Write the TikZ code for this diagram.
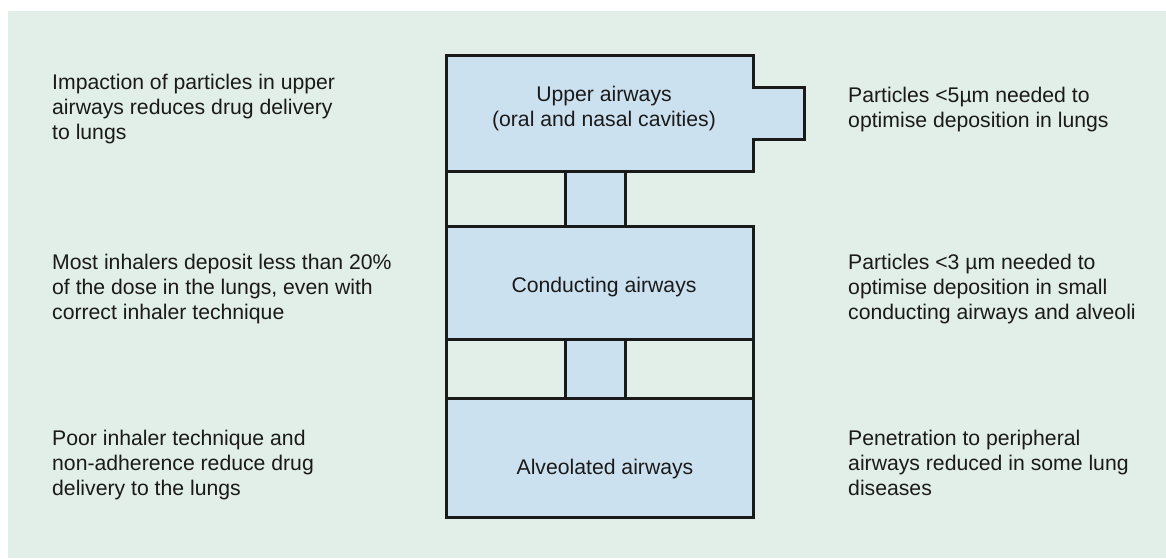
\documentclass[tikz,border=0pt]{standalone}
\usepackage{fontspec}
\setmainfont{Liberation Sans}
\definecolor{panelbg}{HTML}{E2EEE8}
\definecolor{airfill}{HTML}{CCE1F0}
\definecolor{wall}{HTML}{1A1A1A}
\tikzset{
  airway/.style={fill=airfill,draw=wall,line width=3pt,line join=miter},
  wallline/.style={draw=wall,line width=3pt},
  note/.style={anchor=base west,align=left,inner sep=0pt,text=wall,font=\fontsize{21.2}{25}\selectfont},
  zone/.style={anchor=base,align=center,inner sep=0pt,text=wall,font=\fontsize{21.2}{25}\selectfont}
}

\begin{document}
\begin{tikzpicture}[x=1pt,y=-1pt]
  \useasboundingbox (0,0) rectangle (1166,558);
  \fill[panelbg] (8,11) rectangle (1166,558);

  % tubes between the zones
  \fill[airfill] (565,171) rectangle (625,226);
  \fill[airfill] (565,339) rectangle (625,398);
  \draw[wallline] (565,171) -- (565,226) (625,171) -- (625,226);
  \draw[wallline] (565,339) -- (565,398) (625,339) -- (625,398);
  \draw[wallline] (446,171) -- (446,226);
  \draw[wallline] (446,339) -- (446,398) (753,339) -- (753,398);

  % the three zones
  \draw[airway] (446,55) -- (753,55) -- (753,87) -- (804,87) -- (804,139)
    -- (753,139) -- (753,171) -- (446,171) -- cycle;
  \draw[airway] (446,226) rectangle (753,339);
  \draw[airway] (446,398) rectangle (753,517);

  % base = baseline of the last line
  \node[zone] (upperLbl) at (604,126) {Upper airways\\(oral and nasal cavities)};
  \node[zone] (conductLbl) at (604,292) {Conducting airways};
  \node[zone] (alveolLbl) at (605,474) {Alveolated airways};

  % left notes
  \node[note] (impactNote) at (52,139) {Impaction of particles in upper\\airways reduces drug delivery\\to lungs};
  \node[note] (depositNote) at (52,319) {Most inhalers deposit less than 20\%\\of the dose in the lungs, even with\\correct inhaler technique};
  \node[note] (techniqueNote) at (52,495) {Poor inhaler technique and\\non-adherence reduce drug\\delivery to the lungs};

  % right notes
  \node[note] (fiveNote) at (848,127) {Particles <5µm needed to\\optimise deposition in lungs};
  \node[note] (threeNote) at (848,319) {Particles <3 µm needed to\\optimise deposition in small\\conducting airways and alveoli};
  \node[note] (diseaseNote) at (848,495) {Penetration to peripheral\\airways reduced in some lung\\diseases};
\end{tikzpicture}
\end{document}
